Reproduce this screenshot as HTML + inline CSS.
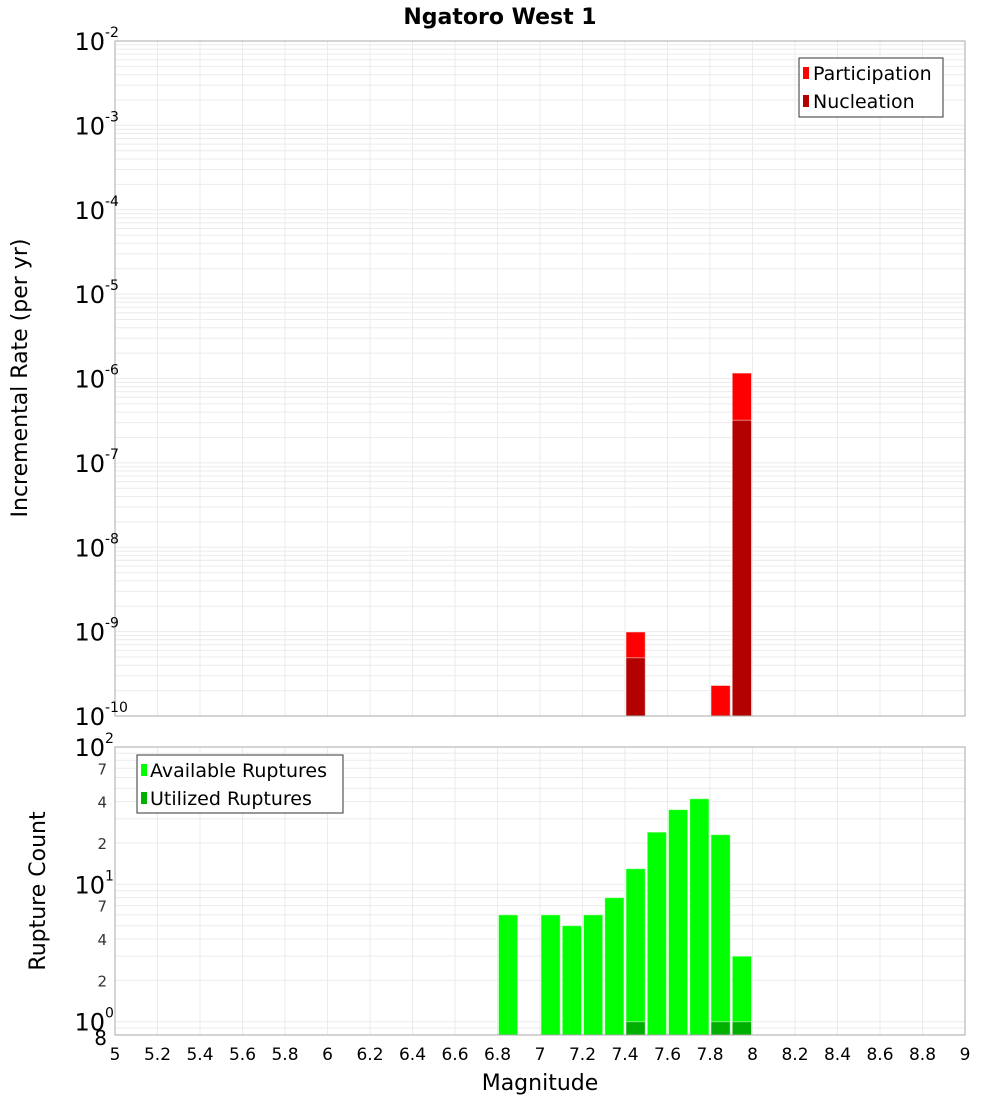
<!DOCTYPE html>
<html><head><meta charset="utf-8"><style>
body{margin:0;background:#fff;font-family:"Liberation Sans","DejaVu Sans",sans-serif}
svg text{font-family:"DejaVu Sans","Liberation Sans",sans-serif}
</style></head><body>
<svg id="c" width="1000" height="1100" xmlns="http://www.w3.org/2000/svg">
<text x="500" y="24" text-anchor="middle" font-size="22" font-weight="bold">Ngatoro West 1</text>
<g id="topg"></g>
<g id="botg"></g>
<text transform="translate(27,378) rotate(-90)" text-anchor="middle" font-size="22">Incremental Rate (per yr)</text>
<text transform="translate(45,891) rotate(-90)" text-anchor="middle" font-size="22">Rupture Count</text>
<text x="540" y="1090" text-anchor="middle" font-size="22">Magnitude</text>
<g>
<rect x="799" y="58" width="144" height="59" fill="#fff" stroke="#333"/>
<rect x="803" y="67" width="6" height="12" fill="#ff0000"/>
<text x="813" y="80" font-size="19">Participation</text>
<rect x="803" y="95" width="6" height="12" fill="#b30000"/>
<text x="813" y="108" font-size="19">Nucleation</text>
</g>
<g>
<rect x="137" y="755" width="206" height="58" fill="#fff" stroke="#333"/>
<rect x="141" y="764" width="6" height="12" fill="#00ff00"/>
<text x="150" y="777" font-size="19">Available Ruptures</text>
<rect x="141" y="792" width="6" height="12" fill="#00b000"/>
<text x="150" y="805" font-size="19">Utilized Ruptures</text>
</g>
</svg>
<script>
const rateMags=[7.45,7.85,7.95];
const participation=[9.9e-10,2.3e-10,1.16e-6];
const nucleation=[4.9e-10,0,3.2e-7];
const countMags=[6.85,7.05,7.15,7.25,7.35,7.45,7.55,7.65,7.75,7.85,7.95];
const available=[6,6,5,6,8,13,24,35,42,23,3];
const utilized=[0,0,0,0,0,1,0,0,0,1,1];
const xTicks=[5,5.2,5.4,5.6,5.8,6,6.2,6.4,6.6,6.8,7,7.2,7.4,7.6,7.8,8,8.2,8.4,8.6,8.8,9];
const rateExps=[-2,-3,-4,-5,-6,-7,-8,-9,-10];
const countMinor=[2,4,7,20,40,70];

const NS="http://www.w3.org/2000/svg";
const X0=115,X1=965;
const xs=m=>X0+(m-5)/4*(X1-X0);
const T0=41,T1=716;
const yTop=v=>T0+(-2-Math.log10(v))/8*(T1-T0);
const B0=747,B1=1035;
const yBot=v=>B0+(2-Math.log10(v))/Math.log10(100/0.8)*(B1-B0);
function el(p,tag,a){const e=document.createElementNS(NS,tag);for(const k in a)e.setAttribute(k,a[k]);p.appendChild(e);return e;}
const topG=document.getElementById('topg'),botG=document.getElementById('botg'),svgEl=document.getElementById('c');

function frame(g,y0,y1,minorFn,nm){
  el(g,'rect',{x:X0,y:y0,width:X1-X0,height:y1-y0,fill:'#fff'});
  minorFn();
  xTicks.forEach(t=>{const l=el(g,'line',{x1:xs(t),x2:xs(t),y1:y0,y2:y1,stroke:'#ebebeb'});
  
  });
}
frame(topG,T0,T1,()=>{
  for(let e=-10;e<-2;e++)for(let k=1;k<10;k++){const y=yTop(k*Math.pow(10,e));
    const l=el(topG,'line',{x1:X0,x2:X1,y1:y,y2:y,stroke:'#ebebeb'});
    
    }
},'rate');
frame(botG,B0,B1,()=>{
  [0.8,0.9,1,2,3,4,5,6,7,8,9,10,20,30,40,50,60,70,80,90].forEach(v=>{const y=yBot(v);
    const l=el(botG,'line',{x1:X0,x2:X1,y1:y,y2:y,stroke:'#ebebeb'});
    
    });
},'count');

const bw=(X1-X0)/40;
function bar(g,m,v,yf,base,fill,nm){
  const y=yf(v);const r=el(g,'rect',{x:xs(m)-bw/2+1,y:y,width:bw-2,height:base-y,fill:fill,stroke:'#fff','stroke-opacity':0.5});
  
  
}
rateMags.forEach((m,i)=>{if(participation[i]>1e-10)bar(topG,m,participation[i],yTop,T1,'#ff0000','bar-participation-'+m);
  if(nucleation[i]>1e-10)bar(topG,m,nucleation[i],yTop,T1,'#b30000','bar-nucleation-'+m);});
countMags.forEach((m,i)=>{if(available[i]>0.8)bar(botG,m,available[i],yBot,B1,'#00ff00','bar-available-'+m);
  if(utilized[i]>0.8)bar(botG,m,utilized[i],yBot,B1,'#00b000','bar-utilized-'+m);});

el(topG,'rect',{x:X0,y:T0,width:X1-X0,height:T1-T0,fill:'none',stroke:'#aaa'});
el(botG,'rect',{x:X0,y:B0,width:X1-X0,height:B1-B0,fill:'none',stroke:'#aaa'});

function powLabel(y,exp,nm){
  const t=el(svgEl,'text',{x:105,y:y+9,'text-anchor':'end','font-size':24});t.textContent='10';
  
  
  const s=el(svgEl,'text',{x:105,y:y-4,'font-size':14});s.textContent=exp;
  
  
}
rateExps.forEach(e=>powLabel(yTop(Math.pow(10,e)),String(e),'rate-tick-label'));
[2,1,0].forEach(e=>powLabel(yBot(Math.pow(10,e)),String(e),'count-tick-label'));
countMinor.forEach(v=>{const t=el(svgEl,'text',{x:107,y:yBot(v)+6,'text-anchor':'end','font-size':15,fill:'#333'});
  t.textContent=String(v).charAt(0);
  
  });
const t8=el(svgEl,'text',{x:107,y:yBot(0.8)+10,'text-anchor':'end','font-size':20});t8.textContent='8';


xTicks.forEach(t=>{const e=el(svgEl,'text',{x:xs(t),y:1060,'text-anchor':'middle','font-size':17});
  e.textContent=String(t);
  
  });
</script>
</body></html>
